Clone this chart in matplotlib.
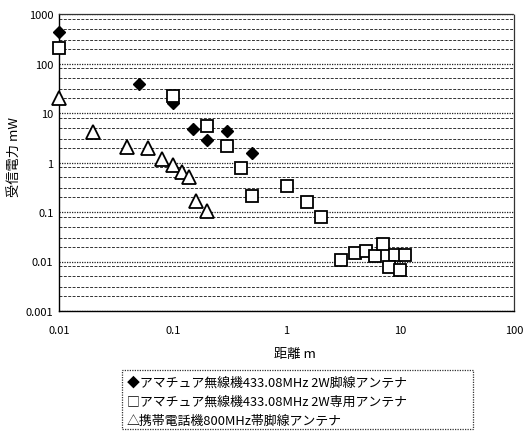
import matplotlib
matplotlib.use("Agg")
import matplotlib.pyplot as plt
from matplotlib.patches import Rectangle
from matplotlib.ticker import LogLocator, NullFormatter

plt.rcParams['font.family'] = ['Noto Sans CJK JP', 'DejaVu Sans']

# --- data -------------------------------------------------------------
# amateur radio 433.08MHz 2W, lead-wire antenna (filled diamonds)
dia_x = [0.01, 0.05, 0.1, 0.15, 0.2, 0.3, 0.5]
dia_y = [430, 38, 16, 4.8, 2.85, 4.3, 1.55]
# amateur radio 433.08MHz 2W, dedicated antenna (open squares)
sq_x = [0.01, 0.1, 0.2, 0.3, 0.4, 0.5, 1.0, 1.5, 2.0,
        3.0, 4.0, 5.0, 6.0, 7.0, 9.0, 11.0, 8.0, 10.0]
sq_y = [205, 22, 5.5, 2.15, 0.77, 0.21, 0.335, 0.16, 0.079,
        0.0107, 0.0149, 0.0163, 0.0129, 0.0226, 0.0135, 0.0135, 0.0077, 0.0067]
# mobile phone 800MHz band lead-wire antenna (open triangles)
tri_x = [0.01, 0.02, 0.04, 0.06, 0.08, 0.1, 0.12, 0.14, 0.16, 0.2]
tri_y = [20, 4.1, 2.06, 1.96, 1.18, 0.89, 0.64, 0.51, 0.167, 0.105]

x_ticks = [0.01, 0.1, 1, 10, 100]
x_ticklabels = ['0.01', '0.1', '1', '10', '100']
y_ticks = [0.001, 0.01, 0.1, 1, 10, 100, 1000]
y_ticklabels = ['0.001', '0.01', '0.1', '1', '10', '100', '1000']

legend_lines = [
    '◆アマチュア無線機433.08MHz 2W脚線アンテナ',
    '□アマチュア無線機433.08MHz 2W専用アンテナ',
    '△携帯電話機800MHz帯脚線アンテナ',
]

# --- figure -----------------------------------------------------------
fig = plt.figure(figsize=(5.24, 4.35), dpi=100)
ax = fig.add_axes([59/524, 1-312/435, (514-59)/524, (312-15)/435])
ax.set_xscale('log')
ax.set_yscale('log')
ax.set_xlim(0.01, 100)
ax.set_ylim(0.001, 1000)

ax.yaxis.set_minor_locator(LogLocator(base=10, subs=[2, 3, 5, 8]))
ax.yaxis.set_minor_formatter(NullFormatter())

# horizontal grid lines (major and minor)
ax.yaxis.grid(True, which='major', color='#222222', linestyle=(0, (1, 1)), linewidth=0.9)
ax.yaxis.grid(True, which='minor', color='#333333', linestyle=(0, (3, 1.5)), linewidth=0.7)
ax.xaxis.grid(False, which='both')
ax.set_axisbelow(True)

ax.plot(dia_x, dia_y, linestyle='none', marker='D', markersize=6.5,
        markerfacecolor='black', markeredgecolor='black', zorder=3, clip_on=False)
ax.plot(sq_x, sq_y, linestyle='none', marker='s', markersize=8.5,
        markerfacecolor='white', markeredgecolor='black', markeredgewidth=1.3, zorder=4,
        clip_on=False)
ax.plot(tri_x, tri_y, linestyle='none', marker='^', markersize=9.5,
        markerfacecolor='white', markeredgecolor='black', markeredgewidth=1.3, zorder=5,
        clip_on=False)

ax.set_xticks(x_ticks)
ax.set_xticklabels(x_ticklabels)
ax.set_yticks(y_ticks)
ax.set_yticklabels(y_ticklabels)
ax.tick_params(axis='both', which='both', length=0, labelsize=8)
ax.tick_params(axis='x', pad=10)
ax.tick_params(axis='y', pad=4)

for side in ['left', 'bottom']:
    ax.spines[side].set_color('black')
    ax.spines[side].set_linewidth(1.0)
for side in ['top', 'right']:
    ax.spines[side].set_color('#333333')
    ax.spines[side].set_linestyle((0, (1, 1)))
    ax.spines[side].set_linewidth(0.9)

ax.set_xlabel('距離 m', fontsize=9.5)
ax.xaxis.set_label_coords((295-59)/455, -(348-312)/297)
ax.set_ylabel('受信電力 mW', fontsize=9.5)
ax.yaxis.set_label_coords(-(59-22)/455, (312-157)/297)

# legend box drawn as text lines inside a dotted frame
fig.patches.append(Rectangle((122/524, 1-430/435), (473-122)/524, (430-371)/435,
                             transform=fig.transFigure, fill=False,
                             edgecolor='#333333', linestyle=(0, (1, 1)), linewidth=0.9))
for i, line in enumerate(legend_lines):
    fig.text(127/524, 1-(383+19*i)/435, line, fontsize=9.3, va='center', ha='left')

fig.savefig('out.png', dpi=100)
